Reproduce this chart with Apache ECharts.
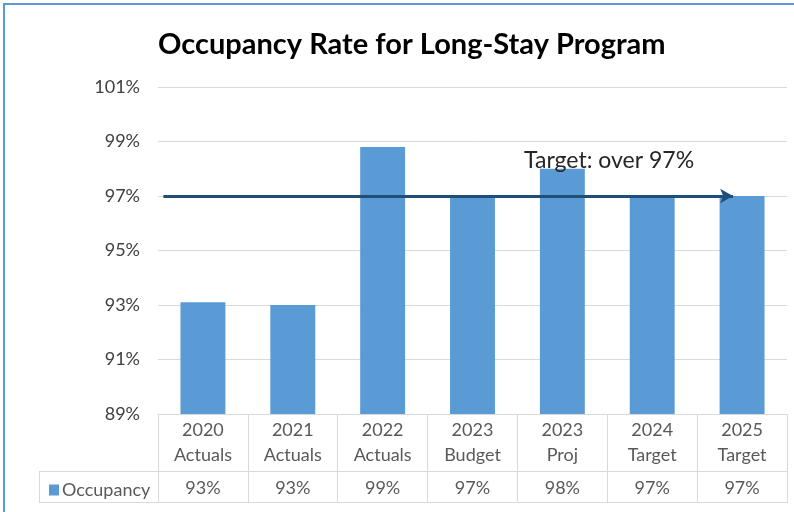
<!DOCTYPE html>
<html>
<head>
<meta charset="utf-8">
<script src="https://cdn.jsdelivr.net/npm/echarts@6/dist/echarts.min.js"></script>
<style>
  html, body { margin: 0; padding: 0; background: #fff; }
  #main { width: 794px; height: 512px; }
</style>
</head>
<body>
<div id="main"></div>
<script>
// categories and values
var categories = ['2020 Actuals', '2021 Actuals', '2022 Actuals', '2023 Budget', '2023 Proj', '2024 Target', '2025 Target'];
var occupancy = [93.1, 93.0, 98.8, 97.0, 98.0, 97.0, 97.0];
var yTicks = [89, 91, 93, 95, 97, 99, 101];
// target arrow, in category positions on a hidden value axis
var targetValue = 97;
var targetFrom = -0.44;
var targetTo = 5.9;

var font = 'Lato, "Open Sans", sans-serif';
var chart = echarts.init(document.getElementById('main'));

chart.setOption({
  animation: false,
  title: {
    text: 'Occupancy Rate for Long-Stay Program',
    left: 153,
    top: 25,
    textStyle: { fontFamily: font, fontWeight: 'bold', fontSize: 29, color: '#000' }
  },
  legend: {
    data: ['Occupancy'],
    left: 44,
    top: 476,
    icon: 'rect',
    itemWidth: 10,
    itemHeight: 11,
    itemGap: 4,
    textStyle: { fontFamily: font, fontSize: 18, color: '#595959', padding: [0, 0, 0, -2] }
  },
  grid: { left: 158, right: 7, top: 87, bottom: 98 },
  xAxis: [{
    type: 'category',
    data: categories,
    axisLine: { lineStyle: { color: '#d9d9d9' } },
    axisTick: { show: true, length: 89, lineStyle: { color: '#d9d9d9' } },
    axisLabel: {
      margin: 4,
      interval: 0,
      formatter: function (v, i) {
        var parts = v.split(' ');
        return '{c|' + parts[0] + '}\n{c|' + parts[1] + '}\n{v|' + Math.round(occupancy[i]) + '%}';
      },
      rich: {
        c: { fontFamily: font, fontSize: 18, color: '#595959', lineHeight: 25 },
        v: { fontFamily: font, fontSize: 18, color: '#595959', lineHeight: 41 }
      }
    }
  }, {
    type: 'value',
    min: -0.5,
    max: categories.length - 0.5,
    show: false
  }],
  yAxis: {
    type: 'value',
    min: yTicks[0],
    max: yTicks[yTicks.length - 1],
    interval: 2,
    axisLine: { show: false },
    axisTick: { show: false },
    splitLine: { lineStyle: { color: '#d9d9d9' } },
    axisLabel: {
      margin: 18,
      fontFamily: font,
      fontSize: 18,
      color: '#404040',
      formatter: '{value}%'
    }
  },
  series: [{
    name: 'Occupancy',
    type: 'bar',
    data: occupancy,
    barWidth: '50%',
    itemStyle: { color: '#5b9bd5' }
  }, {
    name: 'target',
    type: 'line',
    xAxisIndex: 1,
    data: [],
    silent: true,
    markLine: {
      silent: true,
      symbol: ['none', 'arrow'],
      symbolSize: [11, 13],
      lineStyle: { color: '#1f4e79', width: 3, type: 'solid' },
      label: {
        show: true,
        position: 'insideEndTop',
        distance: [39, 24],
        formatter: 'Target: over 97%',
        fontFamily: font,
        fontSize: 23,
        color: '#262626'
      },
      data: [[{ coord: [targetFrom, targetValue] }, { coord: [targetTo, targetValue] }]]
    }
  }],
  graphic: [
    { type: 'rect', shape: { x: 4, y: 4, width: 800, height: 520 }, style: { fill: 'none', stroke: '#5b9bd5', lineWidth: 2 } },
    { type: 'line', shape: { x1: 39, y1: 471.5, x2: 787, y2: 471.5 }, style: { stroke: '#d9d9d9', lineWidth: 1 } },
    { type: 'line', shape: { x1: 39, y1: 502.5, x2: 787, y2: 502.5 }, style: { stroke: '#d9d9d9', lineWidth: 1 } },
    { type: 'line', shape: { x1: 39.5, y1: 471.5, x2: 39.5, y2: 502.5 }, style: { stroke: '#d9d9d9', lineWidth: 1 } }
  ]
});
</script>
</body>
</html>
